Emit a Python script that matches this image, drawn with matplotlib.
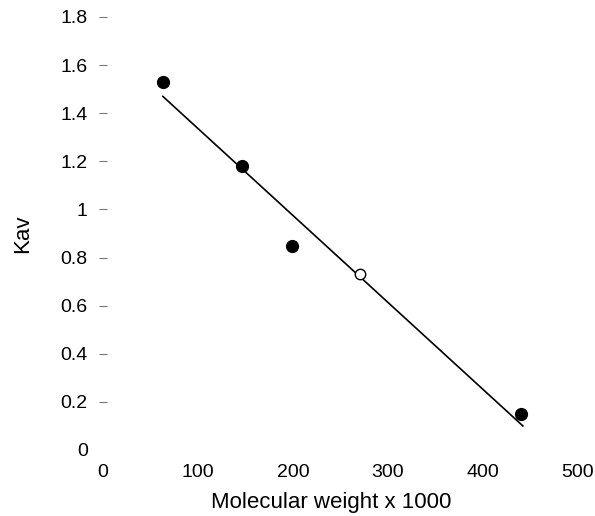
import matplotlib
matplotlib.use("Agg")
import matplotlib.pyplot as plt
import numpy as np

plt.rcParams['font.family'] = ['Liberation Sans', 'DejaVu Sans']

# Data
mw_filled = [63, 146, 199, 440]
kav_filled = [1.53, 1.18, 0.85, 0.15]
mw_open = [270]
kav_open = [0.73]
fit_x = [63, 442]
fit_y = [1.47, 0.10]

xticks = [0, 100, 200, 300, 400, 500]
yticks = [0, 0.2, 0.4, 0.6, 0.8, 1.0, 1.2, 1.4, 1.6, 1.8]
ytick_labels = ['0', '0.2', '0.4', '0.6', '0.8', '1', '1.2', '1.4', '1.6', '1.8']

fig = plt.figure(figsize=(5.95, 5.16), dpi=100)
ax = fig.add_axes([103/595, (516-450)/516, (578-103)/595, (450-17)/516])

ax.plot(fit_x, fit_y, color='black', lw=1.2, zorder=1)
ax.plot(mw_filled, kav_filled, 'o', color='black', ms=8.5, zorder=3)
ax.plot(mw_open, kav_open, 'o', mfc='white', mec='black', mew=1.0, ms=7.5, zorder=3)

ax.set_xlim(0, 500)
ax.set_ylim(0, 1.8)
for s in ax.spines.values():
    s.set_visible(False)

ax.set_yticks(yticks)
ax.set_yticklabels(ytick_labels)
ax.set_xticks(xticks)
ax.set_xticklabels([str(v) for v in xticks])
ax.tick_params(axis='y', direction='inout', length=6, width=0.8, color='#777777',
               pad=8, labelsize=14)
ax.tick_params(axis='x', direction='in', length=0, pad=10, labelsize=14)
ax.yaxis.get_major_ticks()[0].tick1line.set_visible(False)

ax.set_ylabel('Kav', fontsize=16, labelpad=20)
ax.set_xlabel('Molecular weight x 1000', fontsize=16)
ax.xaxis.set_label_coords(0.481, -0.098)

fig.savefig('out.png', dpi=100)
